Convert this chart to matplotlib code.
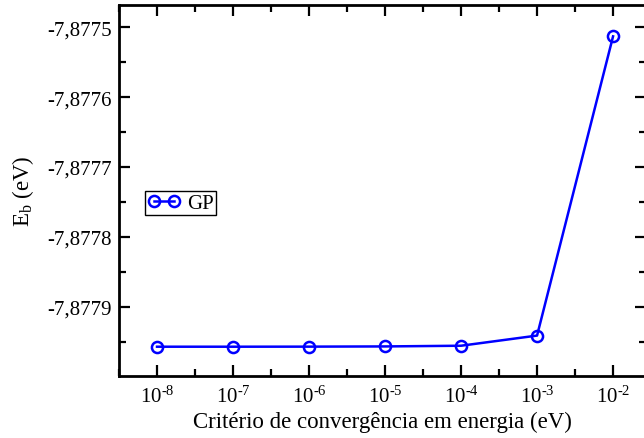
import numpy as np
import matplotlib.pyplot as plt
from matplotlib.ticker import FixedLocator, FuncFormatter

plt.rcParams['font.family'] = 'Liberation Serif'
plt.rcParams['mathtext.fontset'] = 'custom'
plt.rcParams['mathtext.rm'] = 'Liberation Serif'
plt.rcParams['mathtext.it'] = 'Liberation Serif'
plt.rcParams['mathtext.default'] = 'regular'

# Critério de convergência e energia de ligação
criterio = [1e-8, 1e-7, 1e-6, 1e-5, 1e-4, 1e-3, 1e-2]
energia = [-7.8779567, -7.8779567, -7.8779566, -7.8779563, -7.8779553, -7.8779408, -7.8775133]

expoentes = [-8, -7, -6, -5, -4, -3, -2]
yticks = [-7.8779, -7.8778, -7.8777, -7.8776, -7.8775]

fig = plt.figure(figsize=(6.44, 4.39), dpi=100)
ax = fig.add_axes([0.1848, 0.1412, 0.8185, 0.845])

ax.plot(criterio, energia, color='#0000ff', lw=1.8, marker='o', ms=8,
        mfc='none', mec='#0000ff', mew=1.8, label='GP')

ax.set_xscale('log')
ax.set_xlim(10**-8.5, 10**-1.565)
ax.set_ylim(-7.87799857, -7.87746857)


def fmt_x(v, p):
    e = int(round(np.log10(v)))
    return '10$^{\u2010%d}$' % abs(e)


ax.xaxis.set_major_locator(FixedLocator([10.0**e for e in expoentes]))
ax.xaxis.set_minor_locator(FixedLocator([10.0**(e + 0.5) for e in range(-9, -1)]))
ax.xaxis.set_major_formatter(FuncFormatter(fmt_x))
ax.xaxis.set_minor_formatter(FuncFormatter(lambda v, p: ''))

ax.yaxis.set_major_locator(FixedLocator(yticks))
ax.yaxis.set_minor_locator(FixedLocator([t - 0.00005 for t in yticks] + [-7.87745]))
ax.yaxis.set_major_formatter(FuncFormatter(lambda v, p: ('%.4f' % v).replace('.', ',')))

ax.tick_params(which='both', direction='in', top=True, right=True, width=1.6)
ax.tick_params(axis='x', labelsize=15, pad=7)
ax.tick_params(axis='y', labelsize=15, pad=5)
ax.tick_params(which='major', length=8)
ax.tick_params(which='minor', length=5)
for s in ax.spines.values():
    s.set_linewidth(2)

ax.set_xlabel('Critério de convergência em energia (eV)', fontsize=16.5, labelpad=3)
ax.set_ylabel('E$_b$ (eV)', fontsize=16.5, labelpad=8)

leg = ax.legend(loc='upper left', bbox_to_anchor=(0.049, 0.499), borderaxespad=0,
                fontsize=15, numpoints=2, handlelength=1.6, handletextpad=0.3,
                borderpad=0.12, fancybox=False, framealpha=1, edgecolor='black')
leg.get_frame().set_linewidth(1)

fig.savefig('out.png', dpi=100)
